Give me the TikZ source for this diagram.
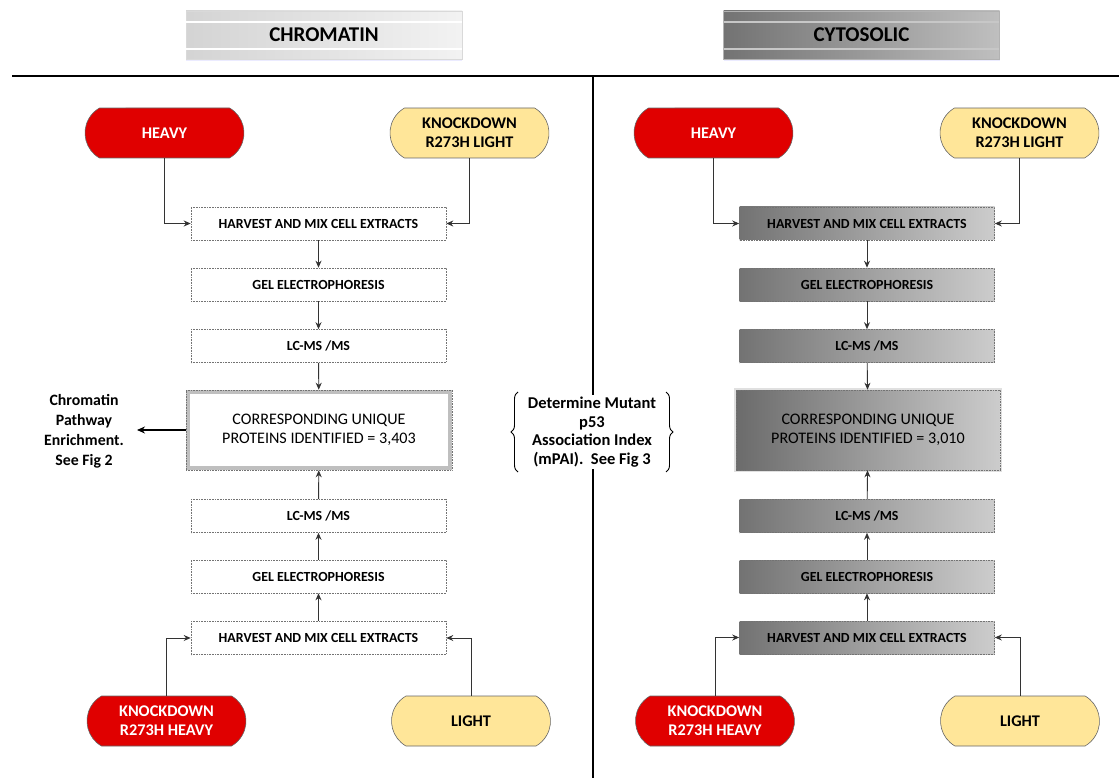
\documentclass[tikz,border=0pt]{standalone}
\usepackage{fontspec}
\setmainfont{Carlito}
\usetikzlibrary{shapes.misc,arrows.meta,decorations.pathreplacing,shadows}
\definecolor{redfill}{HTML}{E00000}
\definecolor{yelfill}{HTML}{FFE699}
\definecolor{linec}{HTML}{333333}
\tikzset{
  term/.style={rounded rectangle, rounded rectangle arc length=120, draw=black!60, line width=0.6pt,
     minimum width=159pt, minimum height=50pt, inner sep=0pt, align=center,
     font=\fontsize{16.3}{19}\selectfont\bfseries},
  redterm/.style={term, fill=redfill, text=white},
  yelterm/.style={term, fill=yelfill, text=black},
  stepbox/.style={rectangle, draw=black!55, densely dotted, line width=0.6pt, minimum width=255pt,
     minimum height=33pt, inner sep=0pt, font=\fontsize{13.9}{16}\selectfont\bfseries},
  lbox/.style={stepbox, fill=white},
  rbox/.style={stepbox, left color=black!55, right color=black!20},
  conn/.style={draw=linec, line width=0.9pt, -{Stealth[length=7pt,width=6pt]}},
  hdr/.style={rectangle, minimum width=276pt, minimum height=48pt, inner sep=0pt},
  hdrtxt/.style={font=\fontsize{21}{24}\selectfont\bfseries},
  bigtxt/.style={align=center, font=\fontsize{16.1}{19}\selectfont},
  sidetxt/.style={align=center, font=\fontsize{15.8}{20}\selectfont\bfseries},
  midtxt/.style={align=center, font=\fontsize{16.5}{18.5}\selectfont\bfseries},
}
\begin{document}
\begin{tikzpicture}[x=1pt,y=-1pt]
\useasboundingbox (0,0) rectangle (1119,778);
% headers
\node[hdr, left color=black!17, right color=black!5, draw=black!15, drop shadow={shadow xshift=0pt, shadow yshift=-2pt, fill=blue!20, opacity=0.4}] (hL) at (324,35) {};
\draw[white, line width=1.2pt] (186,22) -- (462,22) (186,49) -- (462,49);
\node[hdrtxt] (hLt) at (324,35) {CHROMATIN};
\node[hdr, left color=black!55, right color=black!25, draw=black!30, drop shadow={shadow xshift=0pt, shadow yshift=-2pt, fill=blue!20, opacity=0.4}] (hR) at (861.5,35) {};
\draw[black!22, line width=1.2pt] (724,22) -- (999,22) (724,49) -- (999,49);
\node[hdrtxt] (hRt) at (861.5,35) {CYTOSOLIC};
% dividers
\coordinate (d1) at (12,76);
\coordinate (d2) at (1119,76);
\coordinate (d3) at (593,76);
\coordinate (d4) at (593,778);
\draw[black, line width=1.2pt] (d1) -- (d2);
\draw[black, line width=1.2pt] (d3) -- (d4);

% ===== LEFT =====
\node[redterm] (lh) at (164.5,133) {HEAVY};
\node[yelterm] (lk) at (469.5,133) {KNOCKDOWN\\R273H LIGHT};
\node[lbox] (l1) at (318.5,223.5) {HARVEST AND MIX CELL EXTRACTS};
\node[lbox] (l2) at (318.5,284.5) {GEL ELECTROPHORESIS};
\node[lbox] (l3) at (318.5,346) {LC-MS /MS};
\node[rectangle, draw=black!25, line width=4pt, minimum width=262pt, minimum height=76pt, fill=white] (lc0) at (319,430) {};
\node[rectangle, draw=black!55, densely dotted, line width=0.6pt, minimum width=266pt, minimum height=80pt, inner sep=0pt, bigtxt] (lc) at (319,430) {CORRESPONDING UNIQUE\\PROTEINS IDENTIFIED = 3,403};
\node[lbox] (l4) at (318.5,516) {LC-MS /MS};
\node[lbox] (l5) at (318.5,576.5) {GEL ELECTROPHORESIS};
\node[lbox] (l6) at (318.5,638) {HARVEST AND MIX CELL EXTRACTS};
\node[redterm] (lkh) at (166.5,721) {KNOCKDOWN\\R273H HEAVY};
\node[yelterm] (ll) at (471,721) {LIGHT};

\draw[conn] (lh.south) |- (l1.west);
\draw[conn] (lk.south) |- (l1.east);
\draw[conn] (l1) -- (l2);
\draw[conn] (l2) -- (l3);
\draw[conn] (l3) -- (lc);
\draw[conn] (l4) -- (lc);
\draw[conn] (l5) -- (l4);
\draw[conn] (l6) -- (l5);
\draw[conn] (lkh.north) |- (l6.west);
\draw[conn] (ll.north) |- (l6.east);

\node[sidetxt] (side) at (84,431) {Chromatin\\Pathway\\Enrichment.\\See Fig 2};
\coordinate (sa) at (137,430);
\draw[black, line width=1.8pt, -{Stealth[length=8pt,width=7pt]}] (lc.west) -- (sa);

% ===== RIGHT =====
\node[redterm] (rh) at (713.5,133) {HEAVY};
\node[yelterm] (rk) at (1019.5,133) {KNOCKDOWN\\R273H LIGHT};
\node[rbox] (r1) at (867,223.5) {HARVEST AND MIX CELL EXTRACTS};
\node[rbox] (r2) at (867,284.5) {GEL ELECTROPHORESIS};
\node[rbox] (r3) at (867,346) {LC-MS /MS};
\node[rectangle, draw=black!12, line width=4pt, minimum width=264pt, minimum height=80pt] (rc0) at (868,430) {};
\node[rectangle, draw=black!55, densely dotted, line width=0.6pt, minimum width=264pt, minimum height=80pt, inner sep=0pt, left color=black!58, right color=black!20, bigtxt] (rc) at (868,430) {CORRESPONDING UNIQUE\\PROTEINS IDENTIFIED = 3,010};
\node[rbox] (r4) at (867,516) {LC-MS /MS};
\node[rbox] (r5) at (867,576.5) {GEL ELECTROPHORESIS};
\node[rbox] (r6) at (867,637.5) {HARVEST AND MIX CELL EXTRACTS};
\node[redterm] (rkh) at (715,721) {KNOCKDOWN\\R273H HEAVY};
\node[yelterm] (rl) at (1020,721) {LIGHT};

\draw[conn] (rh.south) |- (r1.west);
\draw[conn] (rk.south) |- (r1.east);
\draw[conn] (r1) -- (r2);
\draw[conn] (r2) -- (r3);
\draw[conn] (r3) -- (rc);
\draw[conn] (r4) -- (rc);
\draw[conn] (r5) -- (r4);
\draw[conn] (r6) -- (r5);
\draw[conn] (rkh.north) |- (r6.west);
\draw[conn] (rl.north) |- (r6.east);

% ===== MIDDLE =====
\node[midtxt, fill=white, inner sep=2pt] (mid) at (592,432) {Determine Mutant\\p53\\Association Index\\(mPAI).\ \ See Fig 3};
\coordinate (b1) at (518,472);
\coordinate (b2) at (518,392);
\coordinate (b3) at (666,392);
\coordinate (b4) at (666,472);
\draw[black, line width=0.9pt, decorate, decoration={brace, amplitude=7pt}] (b1) -- (b2);
\draw[black, line width=0.9pt, decorate, decoration={brace, amplitude=7pt}] (b3) -- (b4);
\end{tikzpicture}
\end{document}
